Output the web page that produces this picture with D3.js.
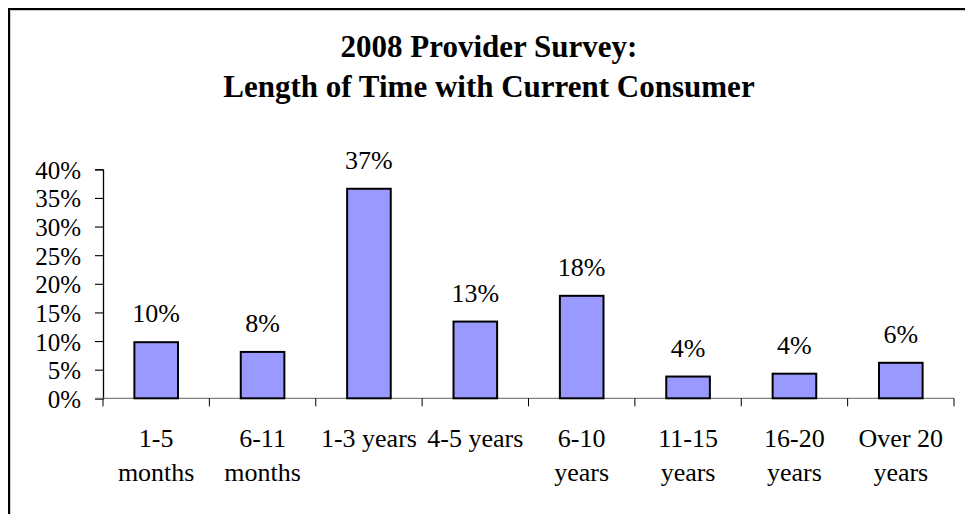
<!DOCTYPE html>
<html>
<head>
<meta charset="utf-8">
<script src="https://cdn.jsdelivr.net/npm/d3@7/dist/d3.min.js"></script>
<style>
  html, body { margin: 0; padding: 0; background: #fff; }
  svg { display: block; }
  text { font-family: "Liberation Serif", "Times New Roman", serif; fill: #000; }
</style>
</head>
<body>
<svg id="chart" width="965" height="514"></svg>
<script>
// Survey categories (a "\n" marks a line break in the axis label)
const categories = [
  "1-5\nmonths", "6-11\nmonths", "1-3 years", "4-5 years",
  "6-10\nyears", "11-15\nyears", "16-20\nyears", "Over 20\nyears"
];
// Share of providers in each category
const shares = [0.098, 0.081, 0.366, 0.134, 0.179, 0.038, 0.043, 0.062];
// Y-axis tick values
const yTicks = [0, 0.05, 0.10, 0.15, 0.20, 0.25, 0.30, 0.35, 0.40];
const titleLines = ["2008 Provider Survey:", "Length of Time with Current Consumer"];

const svg = d3.select("#chart");
const pct = d3.format(".0%");

const plot = { left: 103, right: 954, top: 169.3, bottom: 398.3 };

// Outer frame (top and left edges visible)
svg.append("path")
  .attr("d", "M9,514V9H965")
  .attr("fill", "none").attr("stroke", "#000").attr("stroke-width", 2);
svg.append("path")
  .attr("d", "M10.5,514V10.5H965")
  .attr("fill", "none").attr("stroke", "#c8c8c8").attr("stroke-width", 1);

// Title
svg.append("text")
  .attr("x", 489).attr("text-anchor", "middle")
  .style("font-size", "31px").style("font-weight", "bold")
  .selectAll("tspan").data(titleLines).join("tspan")
  .attr("x", 489)
  .attr("y", (d, i) => 57 + i * 40)
  .text(d => d);

// Scales
const xCat = d3.scaleBand().domain(categories).range([plot.left, plot.right]).padding(0);
const xBar = d3.scaleBand().domain(categories).range([plot.left, plot.right])
  .paddingInner(0.59).paddingOuter(0.295);
const y = d3.scaleLinear().domain([0, 0.4]).range([plot.bottom, plot.top]);

// Y axis
const yAxis = svg.append("g")
  .attr("transform", `translate(${plot.left},0)`)
  .call(d3.axisLeft(y).tickValues(yTicks).tickFormat(pct).tickSize(8).tickPadding(14));
yAxis.select(".domain").attr("stroke", "#000").attr("stroke-width", 1.3);
yAxis.selectAll(".tick line").attr("stroke", "#000").attr("stroke-width", 1.1);
yAxis.selectAll(".tick text")
  .style("font-size", "25px")
  .attr("font-family", null)
  .attr("dy", "0.36em");

// X axis baseline with category boundary ticks
svg.append("line")
  .attr("x1", plot.left - 8).attr("x2", plot.right)
  .attr("y1", y(0)).attr("y2", y(0))
  .attr("stroke", "#808080").attr("stroke-width", 1.3);
const bounds = categories.map(c => xCat(c)).concat([xCat(categories[categories.length - 1]) + xCat.step()]);
svg.append("g").selectAll("line").data(bounds).join("line")
  .attr("x1", d => d).attr("x2", d => d)
  .attr("y1", y(0)).attr("y2", y(0) + 8)
  .attr("stroke", "#000").attr("stroke-width", 1);

// Category labels
const catLabels = svg.append("g").selectAll("text").data(categories).join("text")
  .attr("text-anchor", "middle")
  .style("font-size", "26px");
catLabels.selectAll("tspan")
  .data(d => d.split("\n").map(line => ({ line, cat: d })))
  .join("tspan")
  .attr("x", d => xCat(d.cat) + xCat.bandwidth() / 2)
  .attr("y", (d, i) => 447 + i * 34)
  .text(d => d.line);

// Bars
svg.append("g").selectAll("rect").data(shares).join("rect")
  .attr("x", (d, i) => xBar(categories[i]))
  .attr("width", xBar.bandwidth())
  .attr("y", d => y(d))
  .attr("height", d => y(0) - y(d))
  .attr("fill", "#9999ff")
  .attr("stroke", "#000")
  .attr("stroke-width", 2);

// Value labels
svg.append("g").selectAll("text").data(shares).join("text")
  .attr("x", (d, i) => xBar(categories[i]) + xBar.bandwidth() / 2)
  .attr("y", d => y(d) - 20)
  .attr("text-anchor", "middle")
  .style("font-size", "26px")
  .text(d => pct(d));
</script>
</body>
</html>
